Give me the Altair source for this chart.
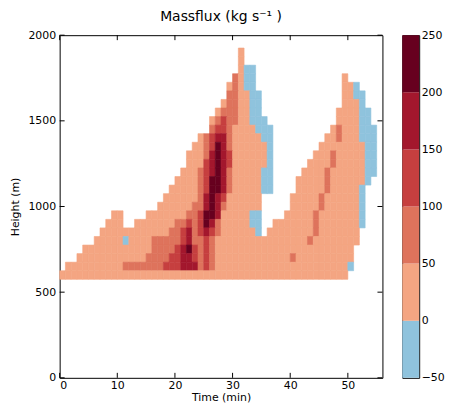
import altair as alt
import pandas as pd

# Height rows (m, cell centres, 50 m tall) and contour band codes per 1-min column (t = 0..55)
heights = [1900, 1850, 1800, 1750, 1700, 1650, 1600, 1550, 1500, 1450, 1400,
           1350, 1300, 1250, 1200, 1150, 1100, 1050, 1000, 950, 900, 850,
           800, 750, 700, 650, 600]
rows = [
    ".......... .......... .......... .1........ .......... ......",
    ".......... .......... .......... .1........ .......... ......",
    ".......... .......... .......... .1bb...... .......... ......",
    ".......... .......... .......... 21bb...... .........1 ......",
    ".......... .......... .........1 21bb...... .........1 1b....",
    ".......... .......... .........2 211bb..... .........1 1bb...",
    ".......... .......... ........12 211bb..... .........1 11b...",
    ".......... .......... .......122 211bb..... ........11 11bb..",
    ".......... .......... ......1232 211bbb.... ........11 11bb..",
    ".......... .......... ......2332 1111bbb... .......121 11bbb.",
    ".......... .......... ....123442 11111bb... ......1121 11bbb.",
    ".......... .......... ...1123542 111111b... .....11111 111bb.",
    ".......... .......... ..11124543 111111b... ....111211 111bb.",
    ".......... .......... ..11134543 111111b... ...1111211 111bb.",
    ".......... .......... .111234542 11111bb... ..11112111 111bb.",
    ".......... .......... 1111235542 11111bb... .111112111 111b..",
    ".......... .........1 1111235542 11111bb... .111112111 11b...",
    ".......... ........11 1111245431 11111..... 1111121111 11b...",
    ".......... .......111 1112245421 11111..... 1111121111 11b...",
    ".........1 1....11111 1122355411 111bb....1 1111211111 11b...",
    "........11 1..1111111 2232354211 111bb..111 1111211111 11b...",
    ".......111 1111111112 2342343211 1111b.1111 1111211111 11....",
    "......1111 1b11112222 2342232111 1111111111 1112111111 11....",
    "....111111 1111112222 3453232111 1111111111 1111111111 1.....",
    "...1111111 1111122223 3443232111 1111111111 2111111111 1.....",
    ".111111111 1222222233 3444232111 1111111111 1111111111 b.....",
    "1111111111 1111111111 1111111111 1111111111 1111111111 ......",
]
# band code -> representative massflux (kg s^-1), middle of each contour band
band_values = {"b": -25, "1": 25, "2": 75, "3": 125, "4": 175, "5": 225}
level_edges = [-50, 0, 50, 100, 150, 200, 250]
level_colors = ["#8fc3dd", "#f4a582", "#de735c", "#c63f3f", "#a3172d", "#67001f"]
x_ticks = [0, 10, 20, 30, 40, 50]
y_ticks = [0, 500, 1000, 1500, 2000]

recs = []
for h, r in zip(heights, rows):
    r = r.replace(" ", "")
    assert len(r) == 56, (h, len(r))
    for t, c in enumerate(r):
        if c in band_values:
            recs.append({"t0": t, "t1": t + 1, "h0": h - 25, "h1": h + 25,
                         "v": band_values[c]})
df = pd.DataFrame(recs)

W, H = 325, 345
FONT = "DejaVu Sans"
cscale = alt.Scale(type="threshold", domain=level_edges[1:-1], range=level_colors)
xs = alt.Scale(domain=[0, 56], nice=False, zero=False)
ys = alt.Scale(domain=[0, 2000], nice=False, zero=False)
xaxis = alt.Axis(values=x_ticks, title="Time (min)", labelPadding=2, titlePadding=1)
yaxis = alt.Axis(values=y_ticks, title="Height (m)", format="d",
                 labelPadding=4, titlePadding=7)

cells = alt.Chart(df).mark_rect(strokeWidth=0.6).encode(
    x=alt.X("t0:Q", scale=xs, axis=xaxis),
    x2="t1:Q",
    y=alt.Y("h0:Q", scale=ys, axis=yaxis),
    y2="h1:Q",
    color=alt.Color("v:Q", scale=cscale, legend=None),
    stroke=alt.Stroke("v:Q", scale=cscale, legend=None),
)

xt = pd.DataFrame({"t0": x_ticks})
yt = pd.DataFrame({"h0": y_ticks})
tick_len = 5
bx = alt.Chart(xt).mark_rule(color="black").encode(
    x=alt.X("t0:Q", scale=xs, axis=xaxis), y=alt.value(H), y2=alt.value(H - tick_len))
tx = alt.Chart(xt).mark_rule(color="black").encode(
    x=alt.X("t0:Q", scale=xs, axis=xaxis), y=alt.value(0), y2=alt.value(tick_len))
ly = alt.Chart(yt).mark_rule(color="black").encode(
    y=alt.Y("h0:Q", scale=ys, axis=yaxis), x=alt.value(0), x2=alt.value(tick_len))
ry = alt.Chart(yt).mark_rule(color="black").encode(
    y=alt.Y("h0:Q", scale=ys, axis=yaxis), x=alt.value(W), x2=alt.value(W - tick_len))

main = alt.layer(cells, bx, tx, ly, ry).properties(
    width=W, height=H,
    title=alt.TitleParams("Massflux (kg s⁻¹ )", fontSize=14, font=FONT,
                          fontWeight="normal", color="black", offset=5),
)

cb_df = pd.DataFrame({"lo": level_edges[:-1], "hi": level_edges[1:],
                      "mid": [-25, 25, 75, 125, 175, 225]})
cbar = alt.Chart(cb_df).mark_rect().encode(
    y=alt.Y("lo:Q", scale=alt.Scale(domain=[-50, 250], nice=False, zero=False),
            axis=alt.Axis(orient="right", values=level_edges, title=None, labelPadding=2)),
    y2="hi:Q",
    x=alt.value(0), x2=alt.value(17),
    color=alt.Color("mid:Q", scale=cscale, legend=None),
).properties(width=17, height=H)

chart = alt.hconcat(main, cbar, spacing=20, bounds="flush").configure_view(
    stroke="black", strokeWidth=1
).configure_axis(
    grid=False, domain=False, ticks=False, labelFont=FONT, titleFont=FONT,
    labelFontSize=11, titleFontSize=11, labelColor="black", titleColor="black",
    titleFontWeight="normal",
).properties(padding={"left": 1, "top": 0, "right": 0, "bottom": 0})

chart.save("out.html", embed_options={"renderer": "svg", "actions": False})
